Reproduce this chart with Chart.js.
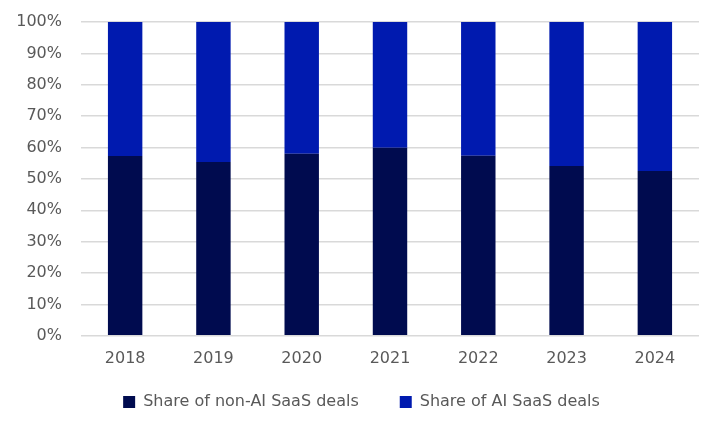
<!DOCTYPE html>
<html>
<head>
<meta charset="utf-8">
<script src="https://cdn.jsdelivr.net/npm/chart.js@4/dist/chart.umd.min.js"></script>
<style>
  html, body { margin: 0; padding: 0; background: #ffffff; }
  #wrap { width: 722px; height: 432px; }
</style>
</head>
<body>
<div id="wrap"><canvas id="c" width="722" height="432"></canvas></div>
<script>
const categories = ['2018', '2019', '2020', '2021', '2022', '2023', '2024'];
const nonAIShare = [57.3, 55.4, 58.0, 59.9, 57.4, 54.1, 52.5];
const aiShare = [42.7, 44.6, 42.0, 40.1, 42.6, 45.9, 47.5];
const yTicks = [0, 10, 20, 30, 40, 50, 60, 70, 80, 90, 100];

const FONT = '"DejaVu Sans", sans-serif';
const LEGEND_H = 55;
const LEGEND_SHIFT_X = 12;
const LEGEND_SHIFT_Y = 20;

const legendTweak = {
  id: 'legendTweak',
  afterInit(chart) {
    const lg = chart.legend;
    if (!lg) return;
    const fit = lg.fit.bind(lg);
    lg.fit = function () { fit(); this.height = LEGEND_H; };
    const draw = lg.draw.bind(lg);
    lg.draw = function () {
      const c = chart.ctx;
      c.save();
      c.translate(LEGEND_SHIFT_X, -LEGEND_SHIFT_Y);
      draw();
      c.restore();
    };
  }
};

new Chart(document.getElementById('c'), {
  type: 'bar',
  data: {
    labels: categories,
    datasets: [
      { label: 'Share of non-AI SaaS deals', data: nonAIShare, backgroundColor: '#000b4f', categoryPercentage: 1, barPercentage: 0.39 },
      { label: 'Share of AI SaaS deals', data: aiShare, backgroundColor: '#001aaf', categoryPercentage: 1, barPercentage: 0.39 }
    ]
  },
  plugins: [legendTweak],
  options: {
    responsive: false,
    animation: false,
    layout: { padding: { left: 0, right: 23, top: 22, bottom: 4 } },
    plugins: {
      tooltip: { enabled: false },
      legend: {
        position: 'bottom',
        labels: {
          boxWidth: 12, boxHeight: 12, padding: 41,
          color: '#595959',
          font: { family: FONT, size: 16 }
        }
      }
    },
    scales: {
      x: {
        stacked: true,
        grid: { display: false },
        border: { display: false },
        ticks: { color: '#595959', font: { family: FONT, size: 16 }, padding: 5 }
      },
      y: {
        stacked: true,
        min: 0, max: 100,
        afterFit: (s) => { s.width = 81; },
        afterBuildTicks: (s) => { s.ticks = yTicks.map(v => ({ value: v })); },
        grid: { color: '#d9d9d9', lineWidth: 1.5, drawTicks: true, tickLength: 19, tickColor: 'rgba(0,0,0,0)' },
        border: { display: false },
        ticks: {
          color: '#595959', font: { family: FONT, size: 16 }, padding: 0,
          callback: (v) => v + '%'
        }
      }
    }
  }
});
</script>
</body>
</html>
